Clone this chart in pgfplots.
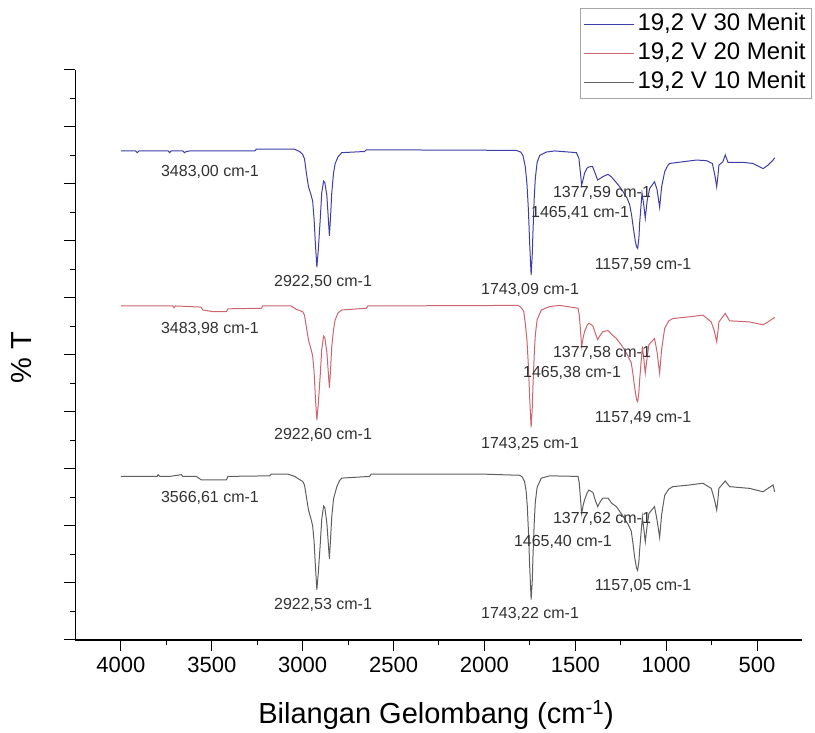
\documentclass[border=0pt]{standalone}
\usepackage{fontspec}
\setmainfont{Liberation Sans}
\usepackage{pgfplots}
\pgfplotsset{compat=1.18}
\definecolor{sblue}{RGB}{62,62,168}
\definecolor{sred}{RGB}{205,100,110}
\definecolor{sgray}{RGB}{95,95,95}
\definecolor{lbl}{RGB}{50,50,50}
\newcommand{\tl}[1]{\fontsize{22}{24}\selectfont #1}
\begin{document}
\begin{tikzpicture}
\path[use as bounding box] (-75.5pt,-93pt) rectangle (739.5pt,640pt);
\begin{axis}[
  scale only axis, width=727pt, height=570pt,
  x dir=reverse, xmin=250, xmax=4250, ymin=0, ymax=10,
  axis x line*=bottom, axis y line*=left,
  xtick={500,1000,...,4000}, minor x tick num=1,
  xticklabels={\tl{500},\tl{1000},\tl{1500},\tl{2000},\tl{2500},\tl{3000},\tl{3500},\tl{4000}},
  ytick={0,1,...,10}, minor y tick num=1, yticklabels={},
  tick align=outside, major tick length=11pt, minor tick length=5pt,
  every tick/.style={black, line width=1pt},
  axis line style={line width=1.3pt},
  xticklabel style={yshift=-3pt},
  xlabel={Bilangan Gelombang (cm\textsuperscript{-1})},
  ylabel={\% T},
  label style={font=\fontsize{29}{32}\selectfont},
  xlabel style={at={(axis description cs:0.496,-0.1316)}, anchor=center},
  ylabel style={at={(axis description cs:-0.0736,0.495)}, anchor=center},
  clip=false,
  legend style={at={(1.0131,1.1088)}, anchor=north east, draw=gray!70, line width=0.8pt,
    font=\fontsize{24}{26}\selectfont, cells={anchor=west},
    nodes={inner sep=3pt, text height=17pt, text depth=5pt}, row sep=1pt},
  legend image code/.code={\draw[#1, line width=1pt] (0pt,0pt) -- (50pt,0pt);},
]
% 19,2 V 30 Menit (blue)
\addplot[sblue, line width=1pt] coordinates {
(4000,8.58) (3920,8.58) (3910,8.55) (3900,8.58) (3740,8.58) (3732,8.55) (3724,8.58)
(3660,8.58) (3650,8.55) (3640,8.57) (3620,8.58) (3264,8.58) (3255,8.61) (3044,8.61)
(3017,8.57) (3000,8.52) (2990,8.44) (2980,8.20) (2968,7.95) (2955,7.82) (2945,7.70) (2937,7.37)
(2930,6.95) (2922,6.54) (2914,6.85) (2904,7.35) (2895,7.85)
(2885,8.05) (2878,8.02) (2867,7.80) (2858,7.35) (2853,7.09) (2847,7.40) (2840,7.84) (2830,8.20)
(2821,8.36) (2805,8.48) (2785,8.55) (2660,8.57)
(2650,8.60) (1825,8.59) (1800,8.56) (1788,8.50) (1775,8.30) (1766,8.00) (1758,7.55) (1751,6.95) (1743,6.40) (1737,6.75) (1733,7.15)
(1726,7.75) (1720,8.10) (1710,8.38) (1696,8.50) (1660,8.56) (1614,8.58) (1494,8.55) (1480,8.45) (1472,8.20) (1465,7.98)
(1457,8.08) (1449,8.19) (1435,8.28) (1425,8.30) (1406,8.31) (1392,8.20) (1377,8.07) (1362,8.10) (1348,8.13) (1320,8.17) (1300,8.12) (1284,8.06)
(1260,7.97) (1238,7.87) (1215,7.75) (1201,7.64) (1190,7.45) (1183,7.28) (1170,7.00) (1163,6.90) (1157,6.87) (1150,7.05) (1146,7.31) (1133,7.84) (1124,7.65) (1115,7.40)
(1105,7.70) (1091,7.92) (1064,8.04) (1050,7.90) (1036,7.59) (1025,7.95) (1008,8.22) (990,8.33) (981,8.36) (908,8.39) (834,8.42)
(779,8.41) (746,8.36) (732,8.15) (722,7.95) (715,8.15) (710,8.33) (688,8.39) (675,8.51) (660,8.38)
(578,8.38) (522,8.36) (467,8.27) (440,8.33) (412,8.42) (403,8.46)
};
\addlegendentry{19,2 V 30 Menit}
% 19,2 V 20 Menit (red)
\addplot[sred, line width=1pt] coordinates {
(4000,5.86) (3714,5.86) (3708,5.83) (3700,5.86) (3622,5.85) (3560,5.84) (3549,5.79)
(3494,5.76) (3420,5.76) (3411,5.81) (3228,5.82) (3219,5.86) (3063,5.86) (3035,5.80)
(3000,5.76) (2990,5.70) (2980,5.50) (2968,5.26) (2953,5.09) (2945,4.98) (2937,4.70)
(2930,4.25) (2922,3.86) (2914,4.15) (2904,4.62) (2895,5.10)
(2885,5.33) (2878,5.30) (2867,5.05) (2858,4.65) (2853,4.42) (2847,4.72) (2840,5.15) (2830,5.45)
(2821,5.62) (2805,5.74) (2785,5.79) (2650,5.82) (2641,5.86)
(1815,5.87) (1800,5.84) (1784,5.77) (1775,5.55) (1766,5.26) (1758,4.80) (1751,4.25) (1743,3.73) (1737,4.05) (1733,4.45)
(1726,5.00) (1720,5.35) (1710,5.62) (1687,5.79) (1641,5.85) (1586,5.87) (1485,5.82) (1478,5.70) (1472,5.45) (1465,5.15)
(1457,5.30) (1449,5.41) (1435,5.52) (1425,5.56) (1403,5.51) (1392,5.40) (1377,5.27) (1362,5.35) (1348,5.41) (1320,5.43) (1300,5.36) (1274,5.29)
(1250,5.19) (1229,5.09) (1210,4.98) (1192,4.86) (1182,4.65) (1174,4.44) (1163,4.22) (1157,4.18) (1150,4.35) (1146,4.56) (1131,5.15) (1122,4.90) (1115,4.68)
(1105,4.95) (1095,5.18) (1064,5.29) (1050,5.05) (1036,4.68) (1025,5.10) (1008,5.47) (985,5.60) (963,5.64) (871,5.67) (798,5.70) (752,5.58)
(735,5.42) (722,5.23) (715,5.42) (710,5.58) (675,5.73) (651,5.60) (541,5.58) (467,5.53) (440,5.58)
(412,5.64) (403,5.66)
};
\addlegendentry{19,2 V 20 Menit}
% 19,2 V 10 Menit (gray)
\addplot[sgray, line width=1pt] coordinates {
(4000,2.87) (3800,2.87) (3796,2.90) (3785,2.87) (3732,2.87) (3668,2.90) (3660,2.87)
(3585,2.87) (3558,2.81) (3420,2.81) (3411,2.87) (3182,2.88) (3173,2.91) (3081,2.91)
(3044,2.87) (3000,2.78) (2990,2.72) (2980,2.52) (2968,2.28) (2953,2.11) (2945,2.00) (2937,1.72)
(2930,1.30) (2922,0.88) (2914,1.18) (2904,1.65) (2895,2.12)
(2885,2.35) (2878,2.32) (2867,2.05) (2858,1.65) (2853,1.42) (2847,1.75) (2840,2.16) (2830,2.48)
(2812,2.69) (2798,2.79) (2785,2.84) (2632,2.87)
(2623,2.91) (2008,2.91) (1806,2.89) (1792,2.86) (1779,2.78) (1770,2.60) (1764,2.34) (1757,1.85) (1751,1.29) (1743,0.71) (1737,1.02) (1733,1.45)
(1726,2.05) (1720,2.42) (1710,2.68) (1687,2.84) (1641,2.88) (1485,2.87) (1478,2.75) (1472,2.50) (1465,2.22)
(1457,2.36) (1449,2.46) (1435,2.58) (1425,2.63) (1403,2.59) (1392,2.47) (1377,2.34) (1362,2.43) (1348,2.49) (1320,2.49) (1300,2.40) (1274,2.34)
(1250,2.23) (1229,2.13) (1210,2.03) (1192,1.91) (1182,1.68) (1174,1.46) (1163,1.26) (1157,1.22) (1150,1.38) (1146,1.58) (1131,2.16) (1122,1.92) (1115,1.72)
(1105,2.00) (1095,2.22) (1064,2.34) (1050,2.10) (1036,1.80) (1025,2.20) (1008,2.54) (985,2.65) (963,2.69) (871,2.72) (798,2.75)
(752,2.66) (735,2.47) (722,2.28) (715,2.47) (710,2.66) (675,2.79) (651,2.69) (541,2.66) (467,2.60)
(440,2.66) (412,2.72) (403,2.60)
};
\addlegendentry{19,2 V 10 Menit}
% peak labels
\begin{scope}[every node/.style={font=\fontsize{16}{18}\selectfont, text=lbl, inner sep=0pt}]
\node at (axis cs:3510,8.21) {3483,00 cm-1};
\node at (axis cs:2888,6.28) {2922,50 cm-1};
\node at (axis cs:1749,6.14) {1743,09 cm-1};
\node at (axis cs:1474,7.49) {1465,41 cm-1};
\node at (axis cs:1353,7.84) {1377,59 cm-1};
\node at (axis cs:1127,6.58) {1157,59 cm-1};
\node at (axis cs:3510,5.46) {3483,98 cm-1};
\node at (axis cs:2888,3.60) {2922,60 cm-1};
\node at (axis cs:1749,3.44) {1743,25 cm-1};
\node at (axis cs:1518,4.68) {1465,38 cm-1};
\node at (axis cs:1353,5.04) {1377,58 cm-1};
\node at (axis cs:1127,3.89) {1157,49 cm-1};
\node at (axis cs:3510,2.49) {3566,61 cm-1};
\node at (axis cs:2888,0.61) {2922,53 cm-1};
\node at (axis cs:1749,0.46) {1743,22 cm-1};
\node at (axis cs:1568,1.72) {1465,40 cm-1};
\node at (axis cs:1353,2.12) {1377,62 cm-1};
\node at (axis cs:1127,0.95) {1157,05 cm-1};
\end{scope}
\end{axis}
\end{tikzpicture}
\end{document}
